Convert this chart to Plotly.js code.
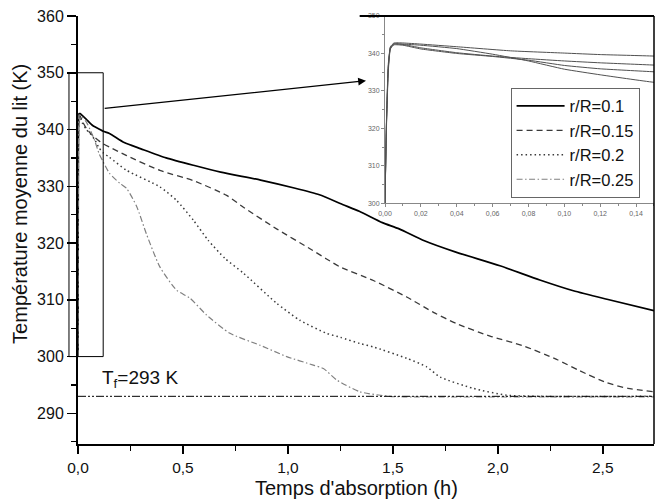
<!DOCTYPE html>
<html>
<head>
<meta charset="utf-8">
<script src="https://cdn.plot.ly/plotly-3.0.1.min.js"></script>
<style>html,body{margin:0;padding:0;background:#fff}#chart{width:655px;height:499px}</style>
</head>
<body>
<div id="chart"></div>
<script>
// ---- Data ----
const seriesNames = ['r/R=0.1', 'r/R=0.15', 'r/R=0.2', 'r/R=0.25'];

const t_01 = [0, 0.0008, 0.0018, 0.003, 0.005, 0.01, 0.02, 0.04, 0.07, 0.1, 0.12, 0.15, 0.22, 0.3, 0.42, 0.55, 0.68, 0.87, 1.03, 1.15, 1.26, 1.34, 1.45, 1.53, 1.65, 1.8, 2.01, 2.2, 2.36, 2.52, 2.744];
const T_01 = [300, 322, 337, 341.8, 342.8, 342.8, 342.5, 341.8, 340.7, 340.1, 339.7, 339.3, 337.7, 336.6, 335.0, 333.7, 332.5, 331.1, 329.7, 328.5, 326.8, 325.6, 323.6, 322.5, 320.4, 318.4, 316.0, 313.5, 311.6, 310.1, 308.1];

const t_015 = [0, 0.0008, 0.0018, 0.003, 0.005, 0.01, 0.02, 0.04, 0.06, 0.08, 0.1, 0.12, 0.15, 0.232, 0.39, 0.549, 0.708, 0.788, 0.946, 1.105, 1.184, 1.248, 1.407, 1.566, 1.693, 1.804, 1.963, 2.121, 2.28, 2.39, 2.519, 2.62, 2.744];
const T_015 = [300, 321, 336, 341.5, 342.5, 342.4, 341.5, 340.2, 339.3, 338.6, 338.0, 337.5, 336.9, 335.4, 332.8, 331.0, 328.4, 326.3, 322.5, 319.0, 317.2, 315.8, 313.4, 310.5, 307.8, 305.8, 303.6, 301.9, 299.5, 297.5, 295.4, 294.4, 293.8];

const t_02 = [0, 0.0008, 0.0018, 0.003, 0.005, 0.01, 0.02, 0.04, 0.06, 0.08, 0.1, 0.12, 0.15, 0.232, 0.39, 0.47, 0.55, 0.62, 0.70, 0.788, 0.946, 1.057, 1.184, 1.25, 1.343, 1.407, 1.566, 1.661, 1.725, 1.883, 2.042, 2.2, 2.744];
const T_02 = [300, 320, 335, 341.2, 342.3, 342.2, 341.2, 340.0, 339.2, 338.2, 336.8, 335.9, 335.1, 332.8, 329.9, 327.5, 324.0, 320.5, 317.3, 314.7, 309.4, 306.4, 304.1, 303.4, 302.3, 301.7, 299.7, 298.2, 296.4, 294.4, 293.2, 293.0, 293.0];

const t_025 = [0, 0.0008, 0.0018, 0.003, 0.005, 0.01, 0.02, 0.04, 0.06, 0.08, 0.1, 0.12, 0.15, 0.2, 0.232, 0.28, 0.327, 0.39, 0.47, 0.533, 0.613, 0.724, 0.867, 0.994, 1.121, 1.169, 1.232, 1.343, 1.486, 1.6, 2.744];
const T_025 = [300, 321, 336, 341.6, 342.6, 342.5, 342.2, 341.3, 339.8, 338.0, 335.8, 334.3, 332.3, 330.5, 329.6, 326.4, 321.5, 315.8, 311.7, 310.3, 307.3, 304.1, 302.0, 300.0, 298.5, 297.9, 295.9, 293.8, 293.0, 292.9, 292.9];

const Tf = 293;
const xRange = [0, 2.744];
const yRange = [284.6, 360];
const insetX = [0, 0.15];
const insetY = [300, 350];
const zoomBoxX = [-0.043, 0.12];
const zoomBoxY = [300, 350];
const arrowFrom = [0.12, 343.7];
const arrowTo = [1.372, 348.6];

const xTicks = [0, 0.5, 1, 1.5, 2, 2.5];
const yTicks = [290, 300, 310, 320, 330, 340, 350, 360];
const xTitle = "Temps d'absorption (h)";
const yTitle = 'Température moyenne du lit (K)';

// ---- styles ----
const styles = [
  {color: '#000000', width: 1.7, dash: 'solid'},
  {color: '#3a3a3a', width: 1.3, dash: '6px,4px'},
  {color: '#3a3a3a', width: 1.5, dash: '1.5px,3px'},
  {color: '#808080', width: 1.2, dash: '6px,2.5px,1.5px,2.5px'}
];
const ts = [t_01, t_015, t_02, t_025];
const Ts = [T_01, T_015, T_02, T_025];

const traces = [];
for (let i = 0; i < 4; i++) {
  traces.push({
    x: ts[i], y: Ts[i], type: 'scatter', mode: 'lines', name: seriesNames[i],
    line: {color: styles[i].color, width: styles[i].width, dash: styles[i].dash, shape: 'spline', smoothing: 0.6},
    xaxis: 'x', yaxis: 'y', hoverinfo: 'skip'
  });
}
traces.push({
  x: [xRange[0], xRange[1]], y: [Tf, Tf], type: 'scatter', mode: 'lines', showlegend: false,
  line: {color: '#000', width: 1, dash: '8px,2px,2px,2px,2px,2px'}, xaxis: 'x', yaxis: 'y'
});
for (let i = 0; i < 4; i++) {
  traces.push({
    x: ts[i], y: Ts[i], type: 'scatter', mode: 'lines', showlegend: false,
    line: {color: '#505050', width: 1, shape: 'spline', smoothing: 0.4},
    xaxis: 'x2', yaxis: 'y2', hoverinfo: 'skip'
  });
}

const px = v => (v - xRange[0]) / (xRange[1] - xRange[0]);
const py = v => (v - yRange[0]) / (yRange[1] - yRange[0]);

const insetDomX = [0.533, 1];
const insetDomY = [0.5624, 1];

const layout = {
  width: 655, height: 499,
  margin: {l: 78, r: 1, t: 16, b: 55},
  paper_bgcolor: '#fff', plot_bgcolor: 'rgba(0,0,0,0)',
  separators: ', ',
  font: {family: '"Liberation Sans", Arial, sans-serif', color: '#111'},
  showlegend: true,
  legend: {
    x: 0.751, y: 0.8325, xanchor: 'left', yanchor: 'top',
    bgcolor: '#fff', bordercolor: '#666', borderwidth: 1,
    font: {size: 16.5, color: '#111'}, itemwidth: 48, tracegroupgap: 0
  },
  xaxis: {
    domain: [0, 1], range: xRange, anchor: 'y',
    tickvals: xTicks, tickformat: '.1f',
    ticks: 'outside', ticklen: 8, tickwidth: 1.5, tickcolor: '#000',
    minor: {dtick: 0.25, ticks: 'outside', ticklen: 5, tickwidth: 1.2, tickcolor: '#000'},
    showline: true, linecolor: '#000', linewidth: 2, showgrid: false, zeroline: false,
    tickfont: {size: 15.5, color: '#111'}
  },
  yaxis: {
    domain: [0, 1], range: yRange, anchor: 'x',
    tickvals: yTicks,
    ticks: 'outside', ticklen: 9, tickwidth: 1.5, tickcolor: '#000',
    minor: {dtick: 5, ticks: 'outside', ticklen: 5, tickwidth: 1.2, tickcolor: '#000'},
    showline: true, linecolor: '#000', linewidth: 2, showgrid: false, zeroline: false,
    tickfont: {size: 16, color: '#111'}
  },
  xaxis2: {
    domain: insetDomX, range: insetX, anchor: 'y2',
    dtick: 0.02, tickformat: '.2f', ticks: 'outside', ticklen: 3, tickwidth: 1, tickcolor: '#888',
    minor: {dtick: 0.01, ticks: 'outside', ticklen: 2, tickcolor: '#888'},
    showline: true, linecolor: '#888', linewidth: 1, showgrid: false, zeroline: false,
    tickfont: {size: 7, color: '#666'}
  },
  yaxis2: {
    domain: insetDomY, range: insetY, anchor: 'x2',
    dtick: 10, ticks: 'outside', ticklen: 3, tickwidth: 1, tickcolor: '#888',
    minor: {dtick: 5, ticks: 'outside', ticklen: 2, tickcolor: '#888'},
    showline: true, linecolor: '#888', linewidth: 1, showgrid: false, zeroline: false,
    tickfont: {size: 7, color: '#666'}
  },
  shapes: [
    {type: 'rect', xref: 'paper', yref: 'paper', x0: insetDomX[0], x1: 1, y0: insetDomY[0], y1: 1,
     fillcolor: '#fff', line: {width: 0}, layer: 'below'},
    {type: 'rect', xref: 'paper', yref: 'paper', x0: px(zoomBoxX[0]), x1: px(zoomBoxX[1]),
     y0: py(zoomBoxY[0]), y1: py(zoomBoxY[1]), line: {color: '#000', width: 1}, fillcolor: 'rgba(0,0,0,0)'},
    {type: 'line', xref: 'paper', yref: 'paper', x0: 1, x1: 1, y0: 0, y1: 1, line: {color: '#000', width: 1.5}},
    {type: 'line', xref: 'paper', yref: 'paper', x0: 0.489, x1: 1, y0: 1, y1: 1, line: {color: '#000', width: 2}}
  ],
  annotations: [
    {x: arrowTo[0], y: arrowTo[1], ax: arrowFrom[0], ay: arrowFrom[1], xref: 'x', yref: 'y', axref: 'x', ayref: 'y',
     showarrow: true, arrowhead: 2, arrowsize: 1.3, arrowwidth: 1.2, arrowcolor: '#000', text: ''},
    {x: 0.105, y: 296.0, xref: 'x', yref: 'y', xanchor: 'left', yanchor: 'middle', showarrow: false,
     text: 'T<sub>f</sub>=' + Tf + ' K', font: {size: 19, color: '#111'}},
    {x: 0.483, y: -0.102, xref: 'paper', yref: 'paper', xanchor: 'center', yanchor: 'middle', showarrow: false,
     text: xTitle, font: {size: 20, color: '#111'}},
    {x: -0.1007, y: 0.561, xref: 'paper', yref: 'paper', xanchor: 'center', yanchor: 'middle', showarrow: false,
     textangle: -90, text: yTitle, font: {size: 20, color: '#111'}}
  ]
};

Plotly.newPlot('chart', traces, layout, {displayModeBar: false, staticPlot: true});
</script>
</body>
</html>
